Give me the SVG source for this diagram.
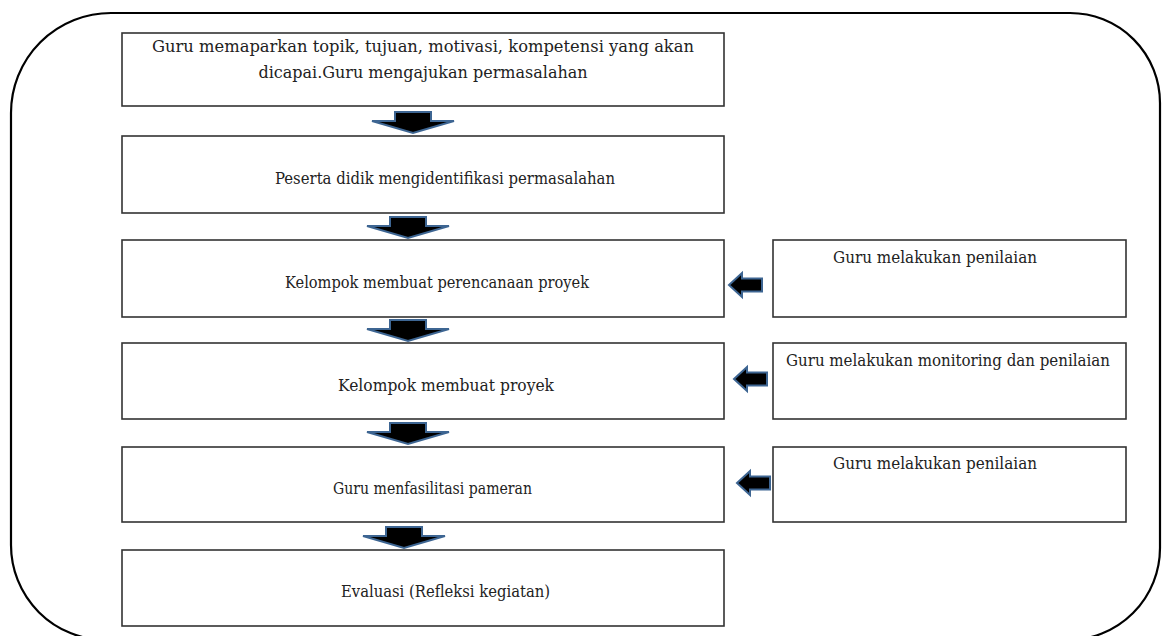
<svg xmlns="http://www.w3.org/2000/svg" xmlns:xlink="http://www.w3.org/1999/xlink" width="1162" height="636" viewBox="0 0 1162 636">
<style>
.box{fill:#fff;stroke:#333;stroke-width:1.6}
.t{font-family:"DejaVu Serif","Liberation Serif",serif;font-size:16px;fill:#222}
.t1{font-family:"DejaVu Serif","Liberation Serif",serif;font-size:16px;fill:#222;text-anchor:middle}
.arr{fill:#000;stroke:#3d6592;stroke-width:2;stroke-linejoin:miter}
</style>
<defs>
<path id="down" d="M -18 0 H 18 V 9 H 41 L 0 21 L -41 9 H -18 Z"/>
<path id="left" d="M 0 0 L 13 -12 V -6.5 H 33 V 6.5 H 13 V 12 Z"/>
</defs>
<rect width="1162" height="636" fill="#fff"/>
<g id="frame">
<path d="M 111 13 H 1070 A 90 90 0 0 1 1160 103 V 548 A 92 92 0 0 1 1068 640 H 106 A 95 95 0 0 1 11 545 V 113 A 100 100 0 0 1 111 13 Z" fill="none" stroke="#000" stroke-width="2.2"/>
</g>
<g id="connectors">
<use xlink:href="#down" class="arr" x="413" y="112"/>
<use xlink:href="#down" class="arr" x="408" y="217"/>
<use xlink:href="#down" class="arr" x="408" y="320"/>
<use xlink:href="#down" class="arr" x="408" y="423"/>
<use xlink:href="#down" class="arr" x="404" y="527"/>
<use xlink:href="#left" class="arr" x="729" y="285"/>
<use xlink:href="#left" class="arr" x="734" y="379"/>
<use xlink:href="#left" class="arr" x="737" y="483"/>
</g>
<g id="n1">
<rect class="box" x="122" y="33" width="602" height="73"/>
<text class="t1" x="423" y="52" textLength="542" lengthAdjust="spacingAndGlyphs">Guru memaparkan topik, tujuan, motivasi, kompetensi yang akan</text>
<text class="t1" x="423" y="78">dicapai.Guru mengajukan permasalahan</text>
</g>
<g id="n2">
<rect class="box" x="122" y="136" width="602" height="77"/>
<text class="t" x="275" y="184" textLength="340" lengthAdjust="spacingAndGlyphs">Peserta didik mengidentifikasi permasalahan</text>
</g>
<g id="n3">
<rect class="box" x="122" y="240" width="602" height="77"/>
<text class="t" x="285" y="288" textLength="304" lengthAdjust="spacingAndGlyphs">Kelompok membuat perencanaan proyek</text>
</g>
<g id="n4">
<rect class="box" x="122" y="343" width="602" height="76"/>
<text class="t" x="338" y="391" textLength="216" lengthAdjust="spacingAndGlyphs">Kelompok membuat proyek</text>
</g>
<g id="n5">
<rect class="box" x="122" y="447" width="602" height="75"/>
<text class="t" x="333" y="494" textLength="199" lengthAdjust="spacingAndGlyphs">Guru menfasilitasi pameran</text>
</g>
<g id="n6">
<rect class="box" x="122" y="550" width="602" height="76"/>
<text class="t" x="341" y="597" textLength="209" lengthAdjust="spacingAndGlyphs">Evaluasi (Refleksi kegiatan)</text>
</g>
<g id="r1">
<rect class="box" x="773" y="240" width="353" height="77"/>
<text class="t" x="833" y="263" textLength="204" lengthAdjust="spacingAndGlyphs">Guru melakukan penilaian</text>
</g>
<g id="r2">
<rect class="box" x="773" y="343" width="353" height="76"/>
<text class="t" x="786" y="366" textLength="324" lengthAdjust="spacingAndGlyphs">Guru melakukan monitoring dan penilaian</text>
</g>
<g id="r3">
<rect class="box" x="773" y="447" width="353" height="75"/>
<text class="t" x="833" y="469" textLength="204" lengthAdjust="spacingAndGlyphs">Guru melakukan penilaian</text>
</g>
</svg>
